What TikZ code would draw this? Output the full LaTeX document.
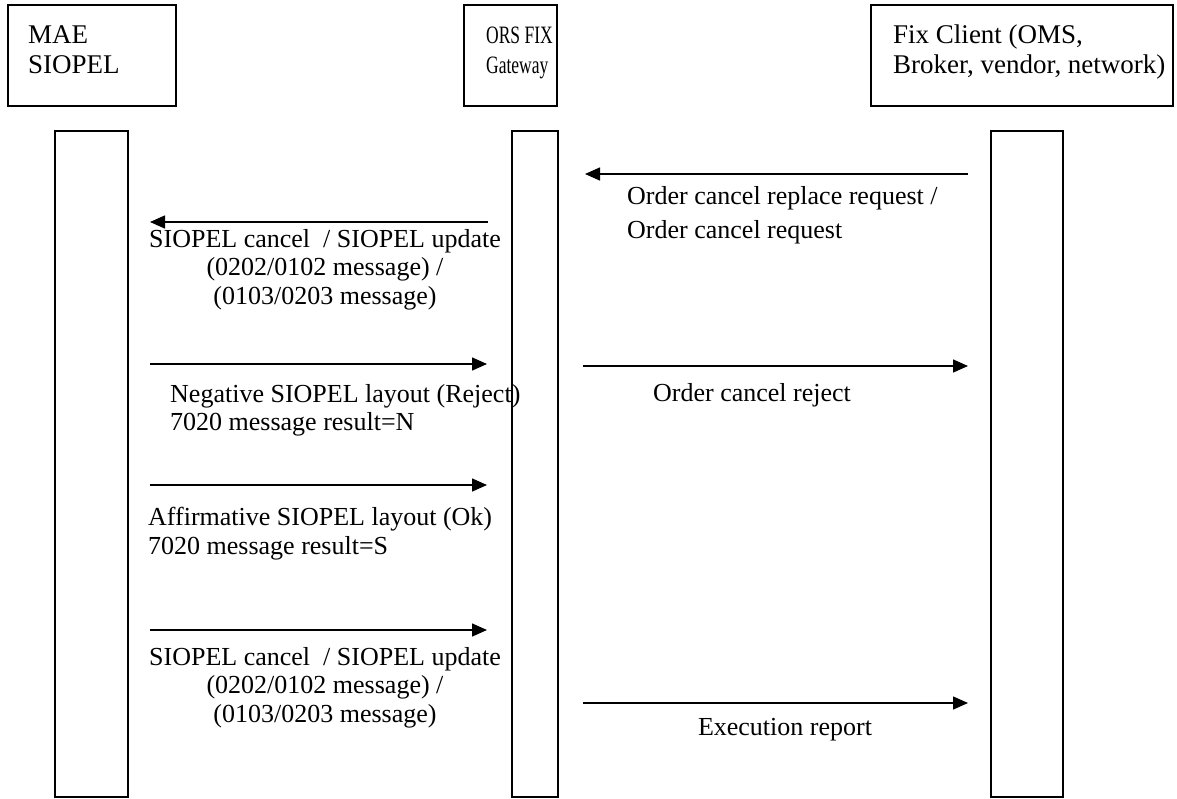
\documentclass[tikz,border=0pt]{standalone}
\usepackage{fontspec}
\setmainfont{Liberation Serif}
\usetikzlibrary{arrows.meta}
\tikzset{
  hdrbox/.style={draw, line width=2pt, inner sep=0pt},
  lifebar/.style={draw, line width=1.5pt, inner sep=0pt},
  hdrtext/.style={inner sep=0pt, anchor=north west, align=left, font=\fontsize{27}{30}\selectfont},
  msgtext/.style={inner sep=0pt, font=\fontsize{26}{28.5}\selectfont},
  msg/.style={line width=1.5pt, -{Triangle[length=15pt,width=13pt]}}
}
\begin{document}
\begin{tikzpicture}[x=1pt,y=-1pt]
\useasboundingbox (0,0) rectangle (1177,798);
% header boxes
\node[hdrbox, minimum width=168pt, minimum height=101pt] (maebox) at (92,55.5) {};
\node[hdrbox, minimum width=93pt, minimum height=101pt] (orsbox) at (510.5,55.5) {};
\node[hdrbox, minimum width=302pt, minimum height=101pt] (fixbox) at (1022,55.5) {};
\node[hdrtext] (maetxt) at (28,25) {MAE\\SIOPEL};
\node[hdrtext, font=\fontsize{25}{30}\selectfont, transform shape, xscale=0.7] (orstxt) at (486,26.5) {ORS FIX\\Gateway};
\node[hdrtext] (fixtxt) at (893,24.5) {Fix Client (OMS,\\Broker, vendor, network)};
% lifelines
\node[lifebar, minimum width=73pt, minimum height=666pt] (maebar) at (91.5,464) {};
\node[lifebar, minimum width=46pt, minimum height=666pt] (orsbar) at (535,464) {};
\node[lifebar, minimum width=72pt, minimum height=666pt] (fixbar) at (1027,464) {};
% arrow endpoints
\coordinate (a1s) at (968,174); \coordinate (a1e) at (585,174);
\coordinate (a2s) at (488,222); \coordinate (a2e) at (150,222);
\coordinate (a3s) at (150,364); \coordinate (a3e) at (487,364);
\coordinate (a4s) at (583,366); \coordinate (a4e) at (968,366);
\coordinate (a5s) at (150,485); \coordinate (a5e) at (487,485);
\coordinate (a6s) at (150,630); \coordinate (a6e) at (487,630);
\coordinate (a7s) at (583,703); \coordinate (a7e) at (968,703);
\draw[msg] (a1s) -- (a1e);
\draw[msg] (a2s) -- (a2e);
\draw[msg] (a3s) -- (a3e);
\draw[msg] (a4s) -- (a4e);
\draw[msg] (a5s) -- (a5e);
\draw[msg] (a6s) -- (a6e);
\draw[msg] (a7s) -- (a7e);
% labels
\node[msgtext, anchor=north west, align=left, font=\fontsize{26}{34}\selectfont] (l1) at (627,186) {Order cancel replace request /\\Order cancel request};
\node[msgtext, anchor=north, align=center] (l2) at (325,229) {SIOPEL cancel\ \ / SIOPEL update\\(0202/0102 message) /\\(0103/0203 message)};
\node[msgtext, anchor=north west, align=left] (l3) at (170,384) {Negative SIOPEL layout (Reject)\\7020 message result=N};
\node[msgtext, anchor=north] (l4) at (752,383) {Order cancel reject};
\node[msgtext, anchor=north west, align=left] (l5) at (148,507) {Affirmative SIOPEL layout (Ok)\\7020 message result=S};
\node[msgtext, anchor=north, align=center] (l6) at (325,647) {SIOPEL cancel\ \ / SIOPEL update\\(0202/0102 message) /\\(0103/0203 message)};
\node[msgtext, anchor=north] (l7) at (785,718) {Execution report};
\end{tikzpicture}
\end{document}
